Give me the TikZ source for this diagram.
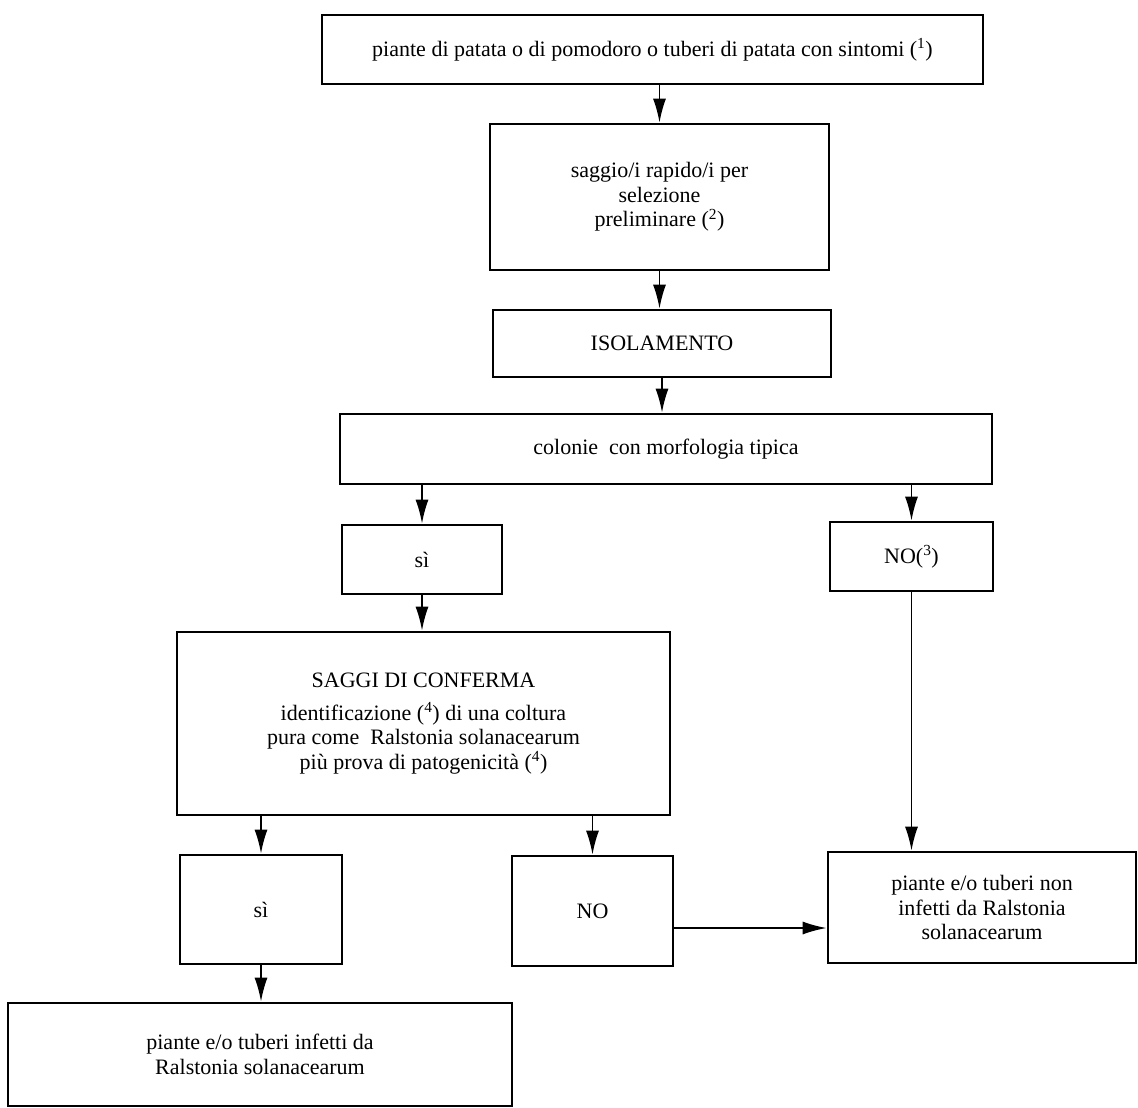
\documentclass[tikz,border=0pt]{standalone}
\usepackage{fontspec}
\setmainfont{Liberation Serif}
\usetikzlibrary{arrows.meta}

\begin{document}
\begin{tikzpicture}[x=1pt, y=-1pt,
  box/.style={rectangle, draw=black, line width=2.6pt, align=center, inner sep=0pt, font=\fontsize{22}{24.5}\selectfont},
  arr/.style={-{Latex[length=24pt, width=13pt]}, line width=1.8pt}]
\useasboundingbox (0,0) rectangle (1138,1108);
\node[box, minimum width=661pt, minimum height=69pt] (top) at (652.5, 49.5) {piante di patata o di pomodoro o tuberi di patata con sintomi (\textsuperscript{1})};
\node[box, minimum width=339pt, minimum height=146pt] (rapid) at (659.5, 197) {saggio/i rapido/i per\\ selezione\\ preliminare (\textsuperscript{2})};
\node[box, minimum width=338pt, minimum height=67pt] (isol) at (662, 343.5) {ISOLAMENTO};
\node[box, minimum width=652pt, minimum height=70pt] (colonie) at (666, 449) {colonie\ \ con morfologia tipica};
\node[box, minimum width=160pt, minimum height=69pt] (si1) at (422, 559.5) {sì};
\node[box, minimum width=163pt, minimum height=69pt] (no1) at (911.5, 556.5) {NO(\textsuperscript{3})};
\node[box, minimum width=493pt, minimum height=183pt] (confirm) at (423.5, 723.5) {SAGGI DI CONFERMA\\[8pt] identificazione (\textsuperscript{4}) di una coltura\\ pura come\ \ Ralstonia solanacearum\\ più prova di patogenicità (\textsuperscript{4})};
\node[box, minimum width=162pt, minimum height=109pt] (si2) at (261, 909.5) {sì};
\node[box, minimum width=161pt, minimum height=110pt] (no2) at (592.5, 911) {NO};
\node[box, minimum width=308pt, minimum height=111pt] (neg) at (982, 907.5) {piante e/o tuberi non\\ infetti da Ralstonia\\ solanacearum};
\node[box, minimum width=504pt, minimum height=103pt] (pos) at (260, 1054.5) {piante e/o tuberi infetti da\\ Ralstonia solanacearum};
\coordinate (noout) at ([yshift=-17pt]no2.east);
\draw[arr] (top.south -| rapid.north) -- (rapid.north);
\draw[arr] (rapid.south) -- (rapid.south |- isol.north);
\draw[arr] (isol.south) -- (isol.south |- colonie.north);
\draw[arr] (si1.north |- colonie.south) -- (si1.north);
\draw[arr] (no1.north |- colonie.south) -- (no1.north);
\draw[arr] (si1.south) -- (si1.south |- confirm.north);
\draw[arr] (si2.north |- confirm.south) -- (si2.north);
\draw[arr] (no2.north |- confirm.south) -- (no2.north);
\draw[arr] (no1.south) -- (no1.south |- neg.north);
\draw[arr] (noout) -- (noout -| neg.west);
\draw[arr] (si2.south) -- (si2.south |- pos.north);
\end{tikzpicture}
\end{document}
